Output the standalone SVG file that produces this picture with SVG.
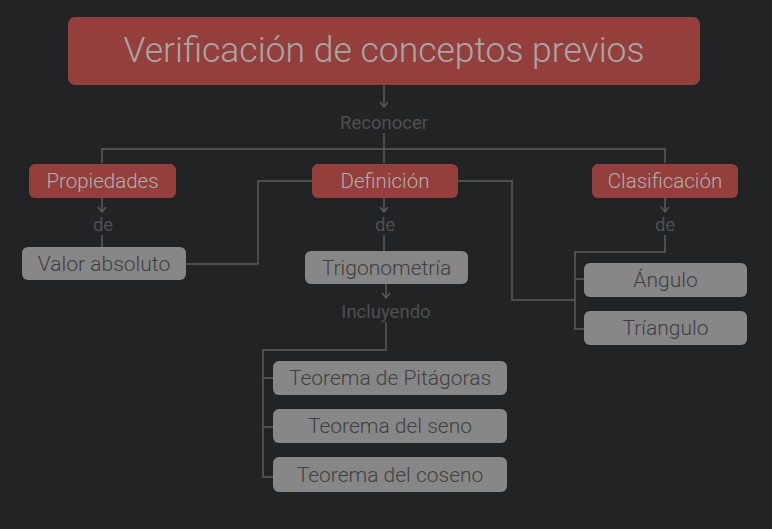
<svg xmlns="http://www.w3.org/2000/svg" width="772" height="529" viewBox="0 0 772 529">
<style>
.bg{fill:#222325}
.red rect{fill:#943f3c}
.red text{fill:#b0b0b0;font-family:Roboto,"Liberation Sans",sans-serif;font-size:20.5px;font-weight:300;text-anchor:middle;dominant-baseline:central}
.grey rect{fill:#878787}
.grey text{fill:#3f3f3f;font-family:Roboto,"Liberation Sans",sans-serif;font-size:21px;font-weight:300;text-anchor:middle;dominant-baseline:central}
.lbl{fill:#4f4f4f;font-family:Roboto,"Liberation Sans",sans-serif;font-size:18.5px;text-anchor:middle;dominant-baseline:central}
.c path{fill:none;stroke:#5c5c5c;stroke-width:1.5}
</style>
<defs>
<marker id="arr" viewBox="0 0 10 10" refX="8" refY="5" markerWidth="10" markerHeight="10" markerUnits="userSpaceOnUse" orient="auto">
<path d="M3 1 L8 5 L3 9" fill="none" stroke="#5c5c5c" stroke-width="1.4"/>
</marker>
</defs>
<rect class="bg" x="0" y="0" width="772" height="529"/>
<g class="c" id="connectors">
<path d="M384 85 V107" marker-end="url(#arr)"/>
<path d="M384 133 V149 M102 163 V149 H665 V163 M384 149 V163"/>
<path d="M102 198 V212" marker-end="url(#arr)"/>
<path d="M102 235 V247"/>
<path d="M384 198 V212" marker-end="url(#arr)"/>
<path d="M384 235 V251"/>
<path d="M665 198 V212" marker-end="url(#arr)"/>
<path d="M665 235 V252 H575 V329 H584 M575 279 H584"/>
<path d="M312 181 H258 V264 H186"/>
<path d="M458 181 H512 V300 H575"/>
<path d="M386 284 V298" marker-end="url(#arr)"/>
<path d="M386 322 V350 H263 V477 H273 M263 378 H273 M263 427 H273"/>
</g>
<g id="title" class="red">
<rect x="68" y="17" width="632" height="68" rx="7"/>
<text x="384" y="50" style="font-size:35.5px;fill:#a8a8a8">Verificación de conceptos previos</text>
</g>
<text class="lbl" x="384" y="123">Reconocer</text>
<g id="propiedades" class="red"><rect x="29" y="164" width="147" height="34" rx="6"/><text x="102.5" y="181">Propiedades</text></g>
<g id="definicion" class="red"><rect x="312" y="164" width="146" height="34" rx="6"/><text x="385" y="181">Definición</text></g>
<g id="clasificacion" class="red"><rect x="592" y="164" width="146" height="34" rx="6"/><text x="665" y="181">Clasificación</text></g>
<text class="lbl" x="103" y="225">de</text>
<text class="lbl" x="385" y="225">de</text>
<text class="lbl" x="665" y="225">de</text>
<g id="valor" class="grey"><rect x="22" y="247" width="164" height="33" rx="6"/><text x="104" y="264">Valor absoluto</text></g>
<g id="trigonometria" class="grey"><rect x="305" y="251" width="163" height="33" rx="6"/><text x="386.5" y="268">Trigonometría</text></g>
<text class="lbl" x="386" y="312">Incluyendo</text>
<g id="angulo" class="grey"><rect x="584" y="263" width="163" height="34" rx="6"/><text x="665.5" y="280">Ángulo</text></g>
<g id="triangulo" class="grey"><rect x="584" y="311" width="163" height="34" rx="6"/><text x="665.5" y="328">Tríangulo</text></g>
<g id="pitagoras" class="grey"><rect x="273" y="361" width="234" height="34" rx="6"/><text x="390" y="378">Teorema de Pitágoras</text></g>
<g id="seno" class="grey"><rect x="273" y="409" width="234" height="34" rx="6"/><text x="390" y="426">Teorema del seno</text></g>
<g id="coseno" class="grey"><rect x="273" y="457" width="234" height="35" rx="6"/><text x="390" y="474.5">Teorema del coseno</text></g>
</svg>
